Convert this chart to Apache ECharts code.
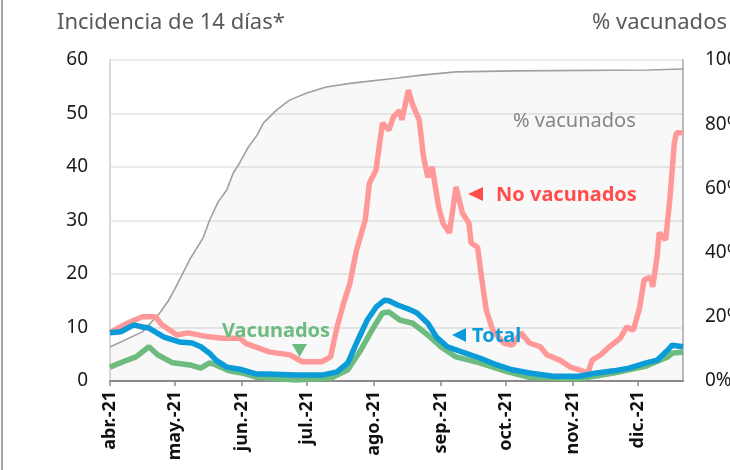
<!DOCTYPE html>
<html>
<head>
<meta charset="utf-8">
<script src="https://cdn.jsdelivr.net/npm/echarts@6/dist/echarts.min.js"></script>
<style>
html,body{margin:0;padding:0;background:#fff;}
#c{width:730px;height:470px;position:relative;}
#frame{position:absolute;left:1px;top:0;width:2px;height:470px;background:#a6a6a6;}
</style>
</head>
<body>
<div id="c"></div>
<div id="frame"></div>
<script>
// ---- Data ----
const startDate = '2021-04-01';
const endDate = '2021-12-22';
const monthNames = ['ene.', 'feb.', 'mar.', 'abr.', 'may.', 'jun.', 'jul.', 'ago.', 'sep.', 'oct.', 'nov.', 'dic.'];

const noVacunados = [
  ['2021-04-01', 9.1], ['2021-04-09', 10.8], ['2021-04-16', 12.0], ['2021-04-22', 12.0], ['2021-04-25', 10.5],
  ['2021-05-02', 8.6], ['2021-05-07', 9.0], ['2021-05-16', 8.3], ['2021-05-23', 8.0], ['2021-05-31', 8.0],
  ['2021-06-03', 7.0], ['2021-06-14', 5.4], ['2021-06-23', 4.9], ['2021-06-29', 3.6], ['2021-07-08', 3.6],
  ['2021-07-12', 4.5], ['2021-07-15', 10.1], ['2021-07-18', 14.5], ['2021-07-21', 18.3], ['2021-07-24', 24.5],
  ['2021-07-28', 30.0], ['2021-07-30', 37.0], ['2021-08-02', 39.4], ['2021-08-05', 48.2], ['2021-08-08', 46.9],
  ['2021-08-10', 49.3], ['2021-08-13', 50.6], ['2021-08-14', 48.8], ['2021-08-17', 54.4], ['2021-08-19', 51.6],
  ['2021-08-22', 48.8], ['2021-08-24', 41.9], ['2021-08-26', 38.1], ['2021-08-28', 40.0], ['2021-08-31', 32.5],
  ['2021-09-02', 29.5], ['2021-09-05', 27.7], ['2021-09-08', 36.3], ['2021-09-11', 31.4], ['2021-09-14', 29.5],
  ['2021-09-15', 25.8], ['2021-09-18', 25.0], ['2021-09-20', 18.9], ['2021-09-22', 13.3], ['2021-09-25', 9.5],
  ['2021-09-30', 7.1], ['2021-10-04', 6.7], ['2021-10-08', 9.0], ['2021-10-12', 7.1], ['2021-10-17', 6.4],
  ['2021-10-20', 4.9], ['2021-10-26', 3.9], ['2021-10-31', 2.6], ['2021-11-04', 2.1], ['2021-11-08', 1.5],
  ['2021-11-10', 3.9], ['2021-11-14', 4.9], ['2021-11-18', 6.4], ['2021-11-23', 8.0], ['2021-11-26', 10.1],
  ['2021-11-29', 9.5], ['2021-12-02', 13.8], ['2021-12-04', 18.9], ['2021-12-07', 19.4], ['2021-12-08', 17.6],
  ['2021-12-10', 23.2], ['2021-12-11', 27.7], ['2021-12-14', 26.4], ['2021-12-16', 34.4], ['2021-12-18', 44.5],
  ['2021-12-19', 46.4], ['2021-12-22', 46.4]
];

const total = [
  ['2021-04-01', 9.0], ['2021-04-06', 9.2], ['2021-04-12', 10.5], ['2021-04-16', 10.1], ['2021-04-19', 9.9],
  ['2021-04-26', 8.2], ['2021-05-03', 7.3], ['2021-05-09', 7.1], ['2021-05-13', 6.4], ['2021-05-17', 5.2],
  ['2021-05-20', 3.9], ['2021-05-25', 2.6], ['2021-05-31', 2.2], ['2021-06-08', 1.3], ['2021-06-13', 1.3],
  ['2021-06-26', 1.1], ['2021-07-08', 1.1], ['2021-07-15', 1.7], ['2021-07-20', 3.4], ['2021-07-24', 7.1],
  ['2021-07-29', 11.4], ['2021-08-02', 13.8], ['2021-08-06', 15.1], ['2021-08-08', 15.0], ['2021-08-12', 14.2],
  ['2021-08-18', 13.3], ['2021-08-21', 12.7], ['2021-08-26', 10.8], ['2021-08-30', 8.2], ['2021-09-04', 6.4],
  ['2021-09-11', 5.4], ['2021-09-19', 4.3], ['2021-09-27', 3.0], ['2021-10-04', 2.1], ['2021-10-12', 1.5],
  ['2021-10-23', 0.9], ['2021-11-04', 0.9], ['2021-11-12', 1.5], ['2021-11-20', 1.9], ['2021-11-27', 2.4],
  ['2021-12-05', 3.4], ['2021-12-10', 3.9], ['2021-12-15', 5.8], ['2021-12-17', 6.7], ['2021-12-22', 6.4]
];

const vacunados = [
  ['2021-04-01', 2.6], ['2021-04-07', 3.6], ['2021-04-13', 4.5], ['2021-04-19', 6.4], ['2021-04-23', 4.9],
  ['2021-04-30', 3.4], ['2021-05-08', 3.0], ['2021-05-13', 2.4], ['2021-05-17', 3.4], ['2021-05-20', 3.0],
  ['2021-05-26', 1.9], ['2021-06-01', 1.5], ['2021-06-08', 0.7], ['2021-06-26', 0.2], ['2021-07-12', 0.5],
  ['2021-07-20', 2.1], ['2021-07-26', 5.8], ['2021-08-01', 10.1], ['2021-08-05', 12.7], ['2021-08-08', 12.9],
  ['2021-08-13', 11.4], ['2021-08-19', 10.8], ['2021-08-26', 8.6], ['2021-09-01', 6.4], ['2021-09-08', 4.5],
  ['2021-09-19', 3.4], ['2021-10-02', 1.7], ['2021-10-12', 0.7], ['2021-11-04', 0.4], ['2021-11-20', 1.5],
  ['2021-12-05', 2.8], ['2021-12-15', 4.5], ['2021-12-17', 5.2], ['2021-12-22', 5.4]
];

const pctVacunados = [
  ['2021-04-01', 10.6], ['2021-04-16', 15.3], ['2021-04-24', 21.2], ['2021-04-28', 25.0], ['2021-05-01', 28.7],
  ['2021-05-08', 38.0], ['2021-05-14', 44.5], ['2021-05-17', 50.0], ['2021-05-21', 55.8], ['2021-05-25', 59.5],
  ['2021-05-28', 64.8], ['2021-05-31', 68.0], ['2021-06-04', 72.9], ['2021-06-08', 76.6], ['2021-06-11', 80.4],
  ['2021-06-17', 84.4], ['2021-06-23', 87.5], ['2021-07-01', 89.7], ['2021-07-10', 91.6], ['2021-07-22', 92.8],
  ['2021-08-12', 94.4], ['2021-08-23', 95.3], ['2021-09-08', 96.3], ['2021-10-05', 96.6], ['2021-12-06', 96.9],
  ['2021-12-22', 97.2]
];

const leftTicks = { min: 0, max: 60, interval: 10 };
const rightTicks = { min: 0, max: 100, interval: 20 };

// ---- Daily category axis ----
const categories = [];
(function () {
  const s = Date.parse(startDate + 'T00:00:00Z');
  const e = Date.parse(endDate + 'T00:00:00Z');
  for (let t = s; t <= e; t += 86400000) categories.push(new Date(t).toISOString().slice(0, 10));
})();
const isMonthStart = (i, v) => v.slice(8) === '01';

const FONT = '"Noto Sans", "Open Sans", sans-serif';
const chart = echarts.init(document.getElementById('c'), null, { renderer: 'canvas' });

chart.setOption({
  animation: false,
  backgroundColor: '#fff',
  textStyle: { fontFamily: FONT },
  title: [
    { text: 'Incidencia de 14 días*', left: 57, top: 12, padding: 0, textStyle: { fontFamily: FONT, fontSize: 22, fontWeight: 'normal', color: '#595959' } },
    { text: '% vacunados', left: 592, top: 12, padding: 0, textStyle: { fontFamily: FONT, fontSize: 22, fontWeight: 'normal', color: '#595959' } }
  ],
  grid: { left: 110, right: 47, top: 60, bottom: 89, containLabel: false, outerBoundsMode: 'none' },
  xAxis: {
    type: 'category',
    data: categories,
    boundaryGap: false,
    axisLine: { show: true, lineStyle: { color: '#8c8c8c', width: 2 } },
    axisTick: { show: true, interval: isMonthStart, length: 5, lineStyle: { color: '#8c8c8c', width: 1.5 } },
    axisLabel: {
      interval: isMonthStart,
      rotate: 90,
      margin: 10,
      fontFamily: FONT,
      fontSize: 18,
      fontWeight: 'bold',
      color: '#111',
      formatter: function (v) { return monthNames[parseInt(v.slice(5, 7), 10) - 1] + '-' + v.slice(2, 4); }
    },
    splitLine: { show: false }
  },
  yAxis: [
    {
      type: 'value', min: leftTicks.min, max: leftTicks.max, interval: leftTicks.interval,
      axisLine: { show: true, lineStyle: { color: '#d9d9d9', width: 2 } },
      axisTick: { show: false },
      axisLabel: { margin: 22, fontFamily: FONT, fontSize: 19, color: '#1a1a1a' },
      splitLine: { show: true, lineStyle: { color: '#ebebeb', width: 2 } }
    },
    {
      type: 'value', min: rightTicks.min, max: rightTicks.max, interval: rightTicks.interval,
      position: 'right',
      axisLine: { show: true, lineStyle: { color: '#bdbdbd', width: 2 } },
      axisTick: { show: false },
      axisLabel: { margin: 22, fontFamily: FONT, fontSize: 19, color: '#1a1a1a', formatter: '{value}%' },
      splitLine: { show: false }
    }
  ],
  series: [
    {
      name: '% vacunados', type: 'line', yAxisIndex: 1, data: pctVacunados, showSymbol: false,
      lineStyle: { color: '#a0a0a0', width: 1.6 },
      areaStyle: { color: 'rgba(0,0,0,0.04)', origin: 'start' },
      z: 1
    },
    {
      name: 'Vacunados', type: 'line', data: vacunados, showSymbol: false,
      lineStyle: { color: '#6dbb7e', width: 5.5 }, z: 2
    },
    {
      name: 'No vacunados', type: 'line', data: noVacunados, showSymbol: false,
      lineStyle: { color: '#ff9999', width: 5.5 }, z: 3
    },
    {
      name: 'Total', type: 'line', data: total, showSymbol: false,
      lineStyle: { color: '#0a9bd8', width: 5.5 }, z: 4
    }
  ],
  graphic: [
    { type: 'text', z: 100, x: 513, y: 121, style: { text: '% vacunados', font: '20px ' + FONT, fill: '#858585', verticalAlign: 'middle' } },
    { type: 'polygon', z: 100, shape: { points: [[468, 194], [483, 187], [483, 201]] }, style: { fill: '#ff4d4d' } },
    { type: 'text', z: 100, x: 496, y: 195, style: { text: 'No vacunados', font: 'bold 20px ' + FONT, fill: '#ff4d4d', verticalAlign: 'middle' } },
    { type: 'text', z: 100, x: 222, y: 331, style: { text: 'Vacunados', font: 'bold 20px ' + FONT, fill: '#6dbb7e', verticalAlign: 'middle' } },
    { type: 'polygon', z: 100, shape: { points: [[292, 344], [307, 344], [299.5, 357]] }, style: { fill: '#6dbb7e' } },
    { type: 'polygon', z: 100, shape: { points: [[452, 335], [466, 328], [466, 342]] }, style: { fill: '#0a9bd8' } },
    { type: 'text', z: 100, x: 472, y: 336, style: { text: 'Total', font: 'bold 20px ' + FONT, fill: '#0a9bd8', verticalAlign: 'middle' } }
  ]
});
</script>
</body>
</html>
